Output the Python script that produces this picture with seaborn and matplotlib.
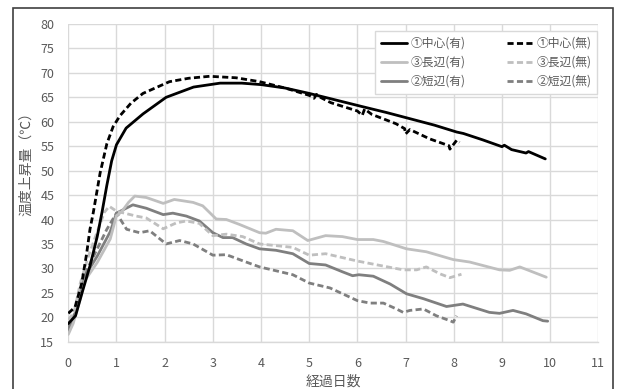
import pandas as pd
import matplotlib.pyplot as plt
import seaborn as sns
from matplotlib.patches import Rectangle

# ---- data ----
# ①中心
center_on_x = [0, 0.15, 0.3, 0.45, 0.6, 0.7, 0.8, 0.9, 1.0, 1.2, 1.55, 2.03, 2.6, 3.15, 3.6, 4.0, 4.5,
               5.0, 5.45, 6.1, 6.6, 7.1, 7.6, 8.06, 8.2, 8.6, 9.0, 9.05, 9.2, 9.5, 9.55, 9.9]
center_on_y = [18.7, 20.3, 25.5, 30.5, 36.5, 41.5, 47, 52, 55.3, 58.7, 61.6, 65.0, 67.1, 67.9, 67.9, 67.6, 66.9,
               65.8, 64.7, 63.1, 61.9, 60.6, 59.3, 57.9, 57.6, 56.3, 54.9, 55.2, 54.3, 53.6, 53.9, 52.4]
center_off_x = [0, 0.14, 0.28, 0.38, 0.45, 0.52, 0.66, 0.8, 0.93, 1.07, 1.3, 1.55, 2.1, 2.5, 2.93, 3.48, 3.97,
                4.5, 5.0, 5.1, 5.15, 5.25, 5.45, 6.0, 6.1, 6.15, 6.3, 6.8, 6.98, 7.0, 7.09, 7.5, 7.9, 7.92,
                8.06, 8.12]
center_off_y = [20.8, 22.1, 27, 33, 38, 41.5, 49.5, 55.5, 59, 61.2, 63.8, 65.8, 68.2, 68.9, 69.3, 69.0, 68.2,
                66.9, 65.4, 64.8, 65.6, 64.9, 63.9, 62.2, 61.3, 62.6, 61.5, 59.6, 58.6, 57.5, 58.4, 56.5, 55.1,
                54.4, 56.2, 55.8]

# ③長辺
long_on_x = [0, 0.1, 0.24, 0.35, 0.6, 0.87, 1.0, 1.1, 1.25, 1.38, 1.62, 1.97, 2.2, 2.59, 2.79, 3.07, 3.28,
             3.55, 3.97, 4.1, 4.31, 4.66, 4.97, 5.34, 5.69, 6.0, 6.33, 6.54, 7.02, 7.43, 7.99, 8.33, 8.95,
             9.16, 9.37, 9.92]
long_on_y = [16.5, 18.7, 23.5, 27.6, 31.2, 36, 40.8, 41.5, 43.5, 44.8, 44.5, 43.3, 44.1, 43.5, 42.8, 40.1, 40,
             39, 37.3, 37.2, 38, 37.7, 35.7, 36.7, 36.5, 35.9, 35.9, 35.5, 34.0, 33.4, 31.8, 31.3, 29.7,
             29.6, 30.3, 28.2]
long_off_x = [0, 0.12, 0.25, 0.4, 0.59, 0.75, 0.85, 1.0, 1.41, 1.62, 1.97, 2.24, 2.45, 2.72, 3.0, 3.28, 3.62,
              3.97, 4.66, 5.0, 5.34, 6.0, 6.47, 6.95, 7.23, 7.43, 7.71, 7.92, 8.16]
long_off_y = [19.5, 21, 27, 32, 37.2, 41.5, 42.7, 41.7, 40.7, 40.3, 38.1, 39.3, 39.7, 39.2, 36.7, 37, 36.5,
              35, 34.3, 32.7, 33, 31.5, 30.6, 29.7, 29.7, 30.3, 28.9, 28.1, 28.8]

# ②短辺
short_on_x = [0, 0.1, 0.24, 0.35, 0.6, 0.87, 1.0, 1.34, 1.62, 1.97, 2.17, 2.45, 2.72, 3.0, 3.21, 3.41, 3.69,
              3.97, 4.31, 4.66, 5.0, 5.34, 5.69, 5.9, 6.03, 6.33, 6.68, 7.02, 7.37, 7.85, 8.19, 8.74, 8.95,
              9.23, 9.5, 9.85, 9.95]
short_on_y = [17.2, 19.3, 24.5, 28.5, 32.5, 37.5, 41.3, 43, 42.3, 41, 41.3, 40.7, 39.7, 37.3, 36.3, 36.3, 35,
              34, 33.7, 33, 31, 30.7, 29.3, 28.5, 28.7, 28.4, 26.8, 24.8, 23.8, 22.2, 22.7, 21.0, 20.8,
              21.4, 20.7, 19.3, 19.2]
short_off_x = [0, 0.12, 0.25, 0.4, 0.6, 0.8, 1.0, 1.21, 1.48, 1.69, 2.03, 2.31, 2.59, 3.0, 3.28, 3.69, 3.97,
               4.66, 5.0, 5.43, 6.0, 6.26, 6.54, 6.81, 6.95, 7.09, 7.37, 7.64, 7.92, 7.99, 8.06]
short_off_y = [17.8, 20.5, 25.5, 30, 34, 38, 41.3, 38, 37.3, 37.7, 35, 35.7, 35, 32.7, 32.8, 31.3, 30.3,
               28.7, 27, 26.0, 23.4, 22.9, 22.9, 21.7, 21.0, 21.4, 21.7, 20.3, 19.3, 19.0, 20.3]

x_ticks = list(range(0, 12))
y_ticks = list(range(15, 85, 5))

series = [
    ("①中心(有)", center_on_x, center_on_y, "#000000", False),
    ("③長辺(有)", long_on_x, long_on_y, "#bfbfbf", False),
    ("②短辺(有)", short_on_x, short_on_y, "#7f7f7f", False),
    ("①中心(無)", center_off_x, center_off_y, "#000000", True),
    ("③長辺(無)", long_off_x, long_off_y, "#bfbfbf", True),
    ("②短辺(無)", short_off_x, short_off_y, "#7f7f7f", True),
]

sns.set_theme(style="whitegrid")
plt.rcParams['font.family'] = ['Noto Sans CJK JP', 'DejaVu Sans']

fig = plt.figure(figsize=(6.17, 3.89), dpi=100)
ax = fig.add_axes([0.1107, 0.1216, 0.859, 0.8167])

# draw order: grey ones first, black on top
draw_order = [2, 5, 1, 4, 0, 3]
handles = {}
for i in draw_order:
    name, xs, ys, col, dashed = series[i]
    df = pd.DataFrame({"day": xs, "temp": ys})
    sns.lineplot(data=df, x="day", y="temp", ax=ax, color=col, lw=2.0,
                 estimator=None, sort=False, label=name)
    line = ax.lines[-1]
    if dashed:
        line.set_dashes((2.2, 1.2))
    handles[name] = line

ax.set_xlim(0, 11)
ax.set_ylim(15, 80)
ax.set_xticks(x_ticks)
ax.set_yticks(y_ticks)
ax.grid(True, color="#d9d9d9", lw=1.0)
for side in ["left", "top", "right"]:
    ax.spines[side].set_visible(False)
ax.spines["bottom"].set_color("#d9d9d9")
ax.spines["bottom"].set_linewidth(1.0)
ax.tick_params(axis="both", length=0, labelsize=9, labelcolor="#595959")
ax.tick_params(axis="y", pad=10)
ax.tick_params(axis="x", pad=11)

ax.set_xlabel("経過日数", fontsize=10, color="#595959", labelpad=3)
ax.set_ylabel("温度上昇量（℃）", fontsize=10, color="#595959")
ax.yaxis.set_label_coords(-0.067, 0.57)

order = ["①中心(有)", "③長辺(有)", "②短辺(有)", "①中心(無)", "③長辺(無)", "②短辺(無)"]
leg = ax.legend([handles[n] for n in order], order, ncol=2, loc="upper left",
                bbox_to_anchor=(0.5787, 0.978, 0.419, 0.0), mode="expand",
                fontsize=8.5, frameon=True, fancybox=False, framealpha=1,
                edgecolor="#d9d9d9", handlelength=2.2, handletextpad=0.3,
                labelspacing=0.5, borderpad=0.5, borderaxespad=0)
for t in leg.get_texts():
    t.set_color("#595959")
leg.get_frame().set_linewidth(1.0)

# outer chart border
fig.patches.append(Rectangle((13 / 617, -0.05), 600 / 617, 1.05 - 8 / 389,
                             transform=fig.transFigure, fill=False,
                             edgecolor="#404040", lw=1.2))

fig.savefig("out.png", dpi=100)
